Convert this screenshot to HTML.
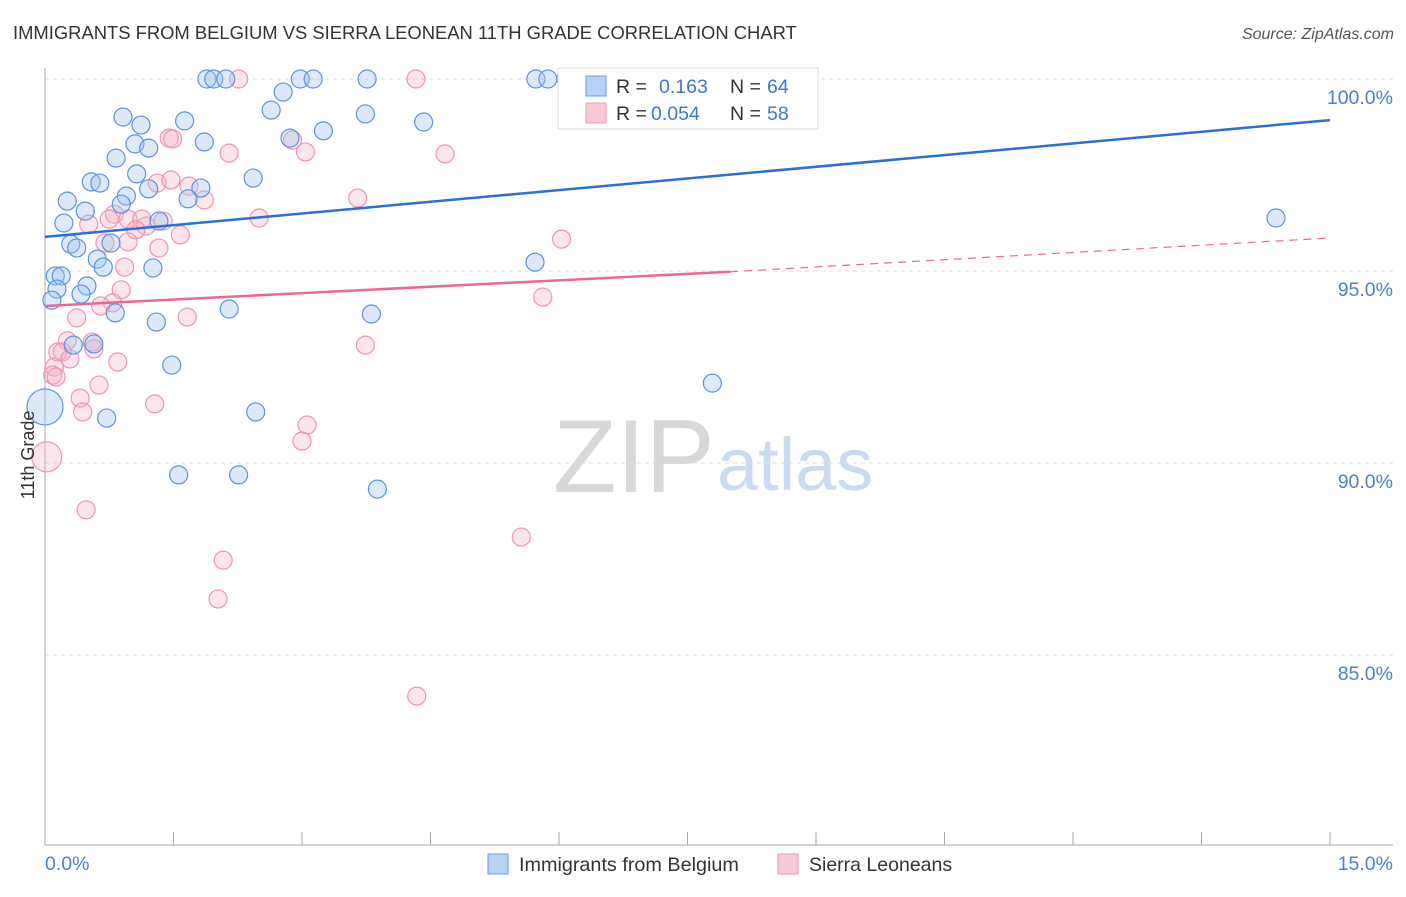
<!DOCTYPE html>
<html><head><meta charset="utf-8"><style>
body{margin:0;background:#fff;font-family:"Liberation Sans",sans-serif;}
svg text{font-family:"Liberation Sans",sans-serif;}
</style></head><body>
<svg id="chart" width="1406" height="892" xmlns="http://www.w3.org/2000/svg">
<text x="13" y="39" font-size="18.4" fill="#333">IMMIGRANTS FROM BELGIUM VS SIERRA LEONEAN 11TH GRADE CORRELATION CHART</text>
<text x="1394" y="39" font-size="16" fill="#555" font-style="italic" text-anchor="end">Source: ZipAtlas.com</text>
<g>
<text x="553" y="492" font-size="104" fill="#d8d8d8" font-family="Liberation Serif, serif">ZIP</text>
<text x="717" y="490" font-size="74" fill="#c9daf2">atlas</text>
</g>
<g id="grid"></g>
<g id="axes"></g>
<g id="marks"></g>
<text transform="translate(34,455) rotate(-90)" font-size="18" fill="#333" text-anchor="middle">11th Grade</text>
<g>
<rect x="558" y="68" width="260" height="61" fill="#fff" stroke="#ddd"/>
<rect x="586" y="76" width="20" height="20" fill="#b8d2f5" stroke="#6a9de3"/>
<text x="616" y="93" font-size="19.5" fill="#333">R = </text><text x="659" y="93" font-size="19.5" fill="#3a78d6">0.163</text>
<text x="730" y="93" font-size="19.5" fill="#333">N = </text><text x="767" y="93" font-size="19.5" fill="#3a78d6">64</text>
<rect x="586" y="103" width="20" height="20" fill="#f9cbd8" stroke="#ef9ab3"/>
<text x="616" y="120" font-size="19.5" fill="#333">R = </text><text x="651" y="120" font-size="19.5" fill="#3a78d6">0.054</text>
<text x="730" y="120" font-size="19.5" fill="#333">N = </text><text x="767" y="120" font-size="19.5" fill="#3a78d6">58</text>
</g>
<g>
<rect x="488" y="854" width="20" height="20" fill="#b8d2f5" stroke="#6a9de3"/>
<text x="519" y="871" font-size="19.8" fill="#333">Immigrants from Belgium</text>
<rect x="778" y="854" width="20" height="20" fill="#f9cbd8" stroke="#ef9ab3"/>
<text x="809" y="871" font-size="19.5" fill="#333">Sierra Leoneans</text>
</g>
</svg>
<script>
const yTicks=[85,90,95,100];
const yTickLabels=["85.0%","90.0%","95.0%","100.0%"];
const xTicks=[0,1.5,3,4.5,6,7.5,9,10.5,12,13.5,15];
const blueX=[1.89,1.97,2.11,2.98,3.13,3.76,5.73,5.87,6.08,0.91,1.12,1.63,2.64,2.78,3.74,4.42,1.05,1.21,0.83,1.86,2.86,3.25,1.07,0.54,0.64,1.21,0.95,1.82,2.43,1.67,0.26,0.47,0.89,1.33,0.22,0.30,0.37,0.77,0.61,0.68,1.26,5.72,0.12,0.19,0.14,0.49,0.42,0.08,0.82,1.30,2.15,3.81,0.33,0.57,1.48,0.72,2.46,7.79,1.56,2.26,3.88,14.37,0.0];
const blueY=[100,100,100,100,100,100,100,100,100,99.01,98.80,98.91,99.19,99.66,99.09,98.88,98.31,98.20,97.94,98.36,98.46,98.65,97.53,97.32,97.29,97.14,96.95,97.16,97.42,96.88,96.82,96.56,96.74,96.30,96.25,95.70,95.60,95.73,95.31,95.10,95.08,95.23,94.87,94.87,94.53,94.61,94.40,94.24,93.91,93.67,94.01,93.88,93.07,93.10,92.55,91.17,91.33,92.08,89.69,89.69,89.32,96.38,91.46];
const pinkX=[2.26,4.33,1.45,1.49,2.89,3.04,2.15,4.67,1.31,1.68,1.86,1.47,3.65,0.81,0.75,0.51,0.97,1.13,1.18,1.38,2.50,1.06,1.58,0.70,0.97,1.33,6.03,0.93,0.89,0.79,0.65,1.66,0.37,5.81,0.26,0.20,0.15,0.55,0.57,0.29,0.85,3.74,0.11,0.09,0.13,0.63,0.41,0.44,1.28,3.06,3.00,0.02,0.48,5.56,2.08,2.02,4.34];
const pinkY=[100,100,98.46,98.44,98.41,98.10,98.07,98.05,97.29,97.21,96.85,97.37,96.90,96.48,96.35,96.22,96.35,96.35,96.17,96.30,96.38,96.07,95.94,95.73,95.76,95.60,95.83,95.10,94.51,94.17,94.09,93.80,93.78,94.32,93.18,92.89,92.89,93.15,92.97,92.71,92.63,93.07,92.50,92.29,92.24,92.03,91.69,91.33,91.54,90.99,90.57,90.16,88.78,88.07,87.47,86.46,83.93];
const blueTrend=[95.89,98.93];
const pinkTrend=[94.09,94.98,95.86];
const pinkSolidEnd=[8.0];
const NS="http://www.w3.org/2000/svg";
const X=v=>45+v/15*1285;
const Y=v=>79+(100-v)*38.4;
function mk(tag,attrs,parent){const e=document.createElementNS(NS,tag);for(const k in attrs)e.setAttribute(k,attrs[k]);parent.appendChild(e);return e;}
const grid=document.getElementById('grid'),axes=document.getElementById('axes'),marks=document.getElementById('marks');
yTicks.forEach((t,i)=>{
 const l=mk('line',{x1:45,x2:1393,y1:Y(t),y2:Y(t),stroke:'#ddd','stroke-dasharray':'4,4'},grid);
 
 
 const tx=mk('text',{x:1393,y:Y(t)+25,'font-size':19.5,fill:'#4a7fd4','text-anchor':'end'},axes);
 tx.textContent=yTickLabels[i];
 
 
});
const ya=mk('line',{x1:45,x2:45,y1:68,y2:845,stroke:'#aaa'},axes);


const xa=mk('line',{x1:45,x2:1393,y1:845,y2:845,stroke:'#aaa'},axes);


xTicks.forEach(t=>{
 const l=mk('line',{x1:X(t),x2:X(t),y1:832,y2:845,stroke:'#aaa'},axes);
 
 
});
const x0=mk('text',{x:45,y:870,'font-size':19.5,fill:'#4a7fd4'},axes);x0.textContent='0.0%';


const x1=mk('text',{x:1393,y:870,'font-size':19.5,fill:'#4a7fd4','text-anchor':'end'},axes);x1.textContent='15.0%';


function dot(x,y,r,fill,stroke,name){
 const c=mk('circle',{cx:X(x),cy:Y(y),r:r,fill:fill,stroke:stroke,'stroke-width':1.2},marks);
 
 
}
pinkX.forEach((x,i)=>dot(x,pinkY[i],x<0.05?15:9,'rgba(246,175,198,0.33)','#ee94b0','pink-point'));
blueX.forEach((x,i)=>dot(x,blueY[i],x<0.05?18:9,'rgba(160,196,242,0.38)','#5b93e0','blue-point'));
const bt=mk('line',{x1:X(0),y1:Y(blueTrend[0]),x2:X(15),y2:Y(blueTrend[1]),stroke:'#2a6fd6','stroke-width':2.5},marks);


const ps=mk('line',{x1:X(0),y1:Y(pinkTrend[0]),x2:X(pinkSolidEnd[0]),y2:Y(pinkTrend[1]),stroke:'#e8689a','stroke-width':2.5},marks);


const pd=mk('line',{x1:X(pinkSolidEnd[0]),y1:Y(pinkTrend[1]),x2:X(15),y2:Y(pinkTrend[2]),stroke:'#e8689a','stroke-width':1.2,'stroke-dasharray':'8,6'},marks);


</script>
</body></html>
